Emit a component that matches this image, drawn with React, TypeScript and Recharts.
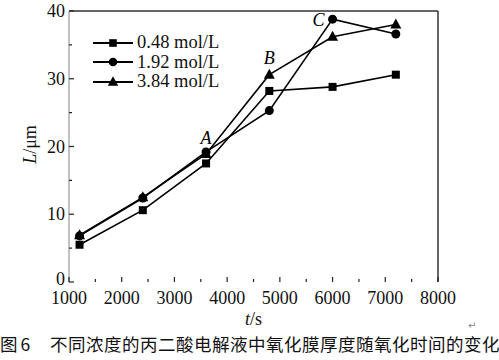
import React from 'react';
import { LineChart, Line, XAxis, YAxis, ReferenceLine } from 'recharts';

const times = [1200, 2400, 3600, 4800, 6000, 7200];
const s048 = [5.5, 10.6, 17.5, 28.2, 28.8, 30.6];
const s192 = [6.8, 12.4, 19.2, 25.3, 38.8, 36.6];
const s384 = [6.9, 12.5, 18.9, 30.6, 36.2, 38.0];

const seriesNames = ['0.48 mol/L', '1.92 mol/L', '3.84 mol/L'];
const xTicks = [1000, 1500, 2000, 2500, 3000, 3500, 4000, 4500, 5000, 5500, 6000, 6500, 7000, 7500, 8000];
const yTicks = [0, 5, 10, 15, 20, 25, 30, 35, 40];
const pointLabels = [
  { key: 's192', index: 2, text: 'A', dx: 0, dy: -14 },
  { key: 's384', index: 3, text: 'B', dx: 0, dy: -17 },
  { key: 's192', index: 4, text: 'C', dx: -14, dy: 1 },
];

const data = times.map((t, i) => ({ t, s048: s048[i], s192: s192[i], s384: s384[i] }));

const SERIF = '"Times New Roman", Times, "Liberation Serif", Tinos, "Noto Serif", "DejaVu Serif", "Noto Serif CJK SC", serif';

type Shape = 'square' | 'circle' | 'triangle';
const series: { key: string; name: string; shape: Shape }[] = [
  { key: 's048', name: seriesNames[0], shape: 'square' },
  { key: 's192', name: seriesNames[1], shape: 'circle' },
  { key: 's384', name: seriesNames[2], shape: 'triangle' },
];

function Marker({ shape, cx, cy, s = 1 }: { shape: Shape; cx: number; cy: number; s?: number }) {
  if (shape === 'square') {
    const h = 4 * s;
    return <rect x={cx - h} y={cy - h} width={2 * h} height={2 * h} fill="#000" />;
  }
  if (shape === 'circle') {
    return <circle cx={cx} cy={cy} r={4.5 * s} fill="#000" />;
  }
  const w = 5.5 * s;
  return (
    <polygon
      points={`${cx},${cy - 6 * s} ${cx - w},${cy + 4 * s} ${cx + w},${cy + 4 * s}`}
      fill="#000"
    />
  );
}

function makeDot(key: string, shape: Shape) {
  return (props: any) => {
    const { cx, cy, index } = props;
    if (cx == null || cy == null) return <g key={`d-${key}-${index}`} />;
    const lab = pointLabels.find((p) => p.key === key && p.index === index);
    return (
      <g key={`d-${key}-${index}`}>
        <Marker shape={shape} cx={cx} cy={cy} />
        {lab && (
          <text
            x={cx + lab.dx}
            y={cy + lab.dy}
            textAnchor="middle"
            dominantBaseline="central"
            fontFamily={SERIF}
            fontStyle="italic"
            fontSize={18}
            fill="#000"
          >
            {lab.text}
          </text>
        )}
      </g>
    );
  };
}

const XTick = (props: any) => {
  const { x, y, payload } = props;
  const v = payload.value as number;
  const major = v % 1000 === 0;
  return (
    <g>
      <line x1={x} x2={x} y1={y} y2={y - (major ? 5 : 3)} stroke="#222" strokeWidth={1.2} />
      {major && (
        <text x={x} y={y + 22} textAnchor="middle" fontFamily={SERIF} fontSize={18} fill="#111">
          {v}
        </text>
      )}
    </g>
  );
};

const YTick = (props: any) => {
  const { x, y, payload } = props;
  const v = payload.value as number;
  const major = v % 10 === 0;
  return (
    <g>
      <line x1={x} x2={x + (major ? 5 : 3)} y1={y} y2={y} stroke="#222" strokeWidth={1.2} />
      {major && (
        <text x={x - 4} y={v === 0 ? y - 3 : y} textAnchor="end" dominantBaseline="central" fontFamily={SERIF} fontSize={18} fill="#111">
          {v}
        </text>
      )}
    </g>
  );
};

const YLabel = (props: any) => {
  const vb = props.viewBox || { x: 0, y: 11, width: 69, height: 271 };
  const cx = vb.x + 30;
  const cy = vb.y + vb.height / 2 - 2;
  return (
    <text
      transform={`translate(${cx},${cy}) rotate(-90)`}
      textAnchor="middle"
      dominantBaseline="central"
      fontFamily={SERIF}
      fontSize={18}
      fill="#111"
    >
      <tspan fontStyle="italic">L</tspan>
      <tspan>/μm</tspan>
    </text>
  );
};

const XLabel = (props: any) => {
  const vb = props.viewBox || { x: 69, y: 282, width: 369, height: 78 };
  return (
    <text x={vb.x + vb.width / 2} y={vb.y + 43} textAnchor="middle" fontFamily={SERIF} fontSize={18} fill="#111">
      <tspan fontStyle="italic">t</tspan>
      <tspan>/s</tspan>
    </text>
  );
};

export default function App() {
  return (
    <div style={{ position: 'absolute', left: 0, top: 0, width: 499, height: 360, background: '#fff', overflow: 'hidden' }}>
      <LineChart width={499} height={360} data={data} margin={{ top: 11, right: 61, left: 0, bottom: 0 }}>
        <XAxis
          dataKey="t"
          type="number"
          domain={[1000, 8000]}
          ticks={xTicks}
          interval={0}
          axisLine={false}
          tickLine={false}
          tickSize={0}
          tickMargin={0}
          height={78}
          tick={<XTick />}
          label={<XLabel />}
        />
        <YAxis
          type="number"
          domain={[0, 40]}
          ticks={yTicks}
          interval={0}
          axisLine={{ stroke: '#999', strokeWidth: 1.2 }}
          tickLine={false}
          tickSize={0}
          tickMargin={0}
          width={69}
          tick={<YTick />}
          label={<YLabel />}
        />
        <ReferenceLine y={40} stroke="#333" strokeWidth={1.5} />
        <ReferenceLine x={8000} stroke="#333" strokeWidth={1.5} />
        {series.map((s) => (
          <Line
            key={s.key}
            dataKey={s.key}
            name={s.name}
            type="linear"
            stroke="#000"
            strokeWidth={1.6}
            dot={makeDot(s.key, s.shape)}
            activeDot={false}
            isAnimationActive={false}
          />
        ))}
      </LineChart>

      <div style={{ position: 'absolute', left: 93, top: 33 }}>
        {series.map((s) => (
          <div key={s.key} style={{ display: 'flex', alignItems: 'center', height: 19.5 }}>
            <svg width={40} height={14} style={{ display: 'block' }}>
              <line x1={0} x2={40} y1={7} y2={7} stroke="#000" strokeWidth={2} />
              <Marker shape={s.shape} cx={20} cy={7} s={0.95} />
            </svg>
            <span style={{ marginLeft: 4, fontFamily: SERIF, fontSize: 18.5, color: '#111', whiteSpace: 'nowrap', lineHeight: '19px' }}>
              {s.name}
            </span>
          </div>
        ))}
      </div>

      <div
        style={{
          position: 'absolute',
          left: 468,
          top: 320,
          fontSize: 10,
          color: '#888',
          fontFamily: '"DejaVu Sans", sans-serif',
        }}
      >
        ↵
      </div>
      <div
        style={{
          position: 'absolute',
          left: 0,
          top: 334,
          width: 499,
          fontFamily: '"Noto Sans CJK SC", sans-serif',
          fontSize: 17.5,
          lineHeight: '20px',
          color: '#111',
          whiteSpace: 'nowrap',
        }}
      >
        <span>图</span>
        <span style={{ marginLeft: 3 }}>6</span>
        <span style={{ position: 'absolute', left: 50, top: 0, letterSpacing: 0.5 }}>
          不同浓度的丙二酸电解液中氧化膜厚度随氧化时间的变化
        </span>
      </div>
    </div>
  );
}
